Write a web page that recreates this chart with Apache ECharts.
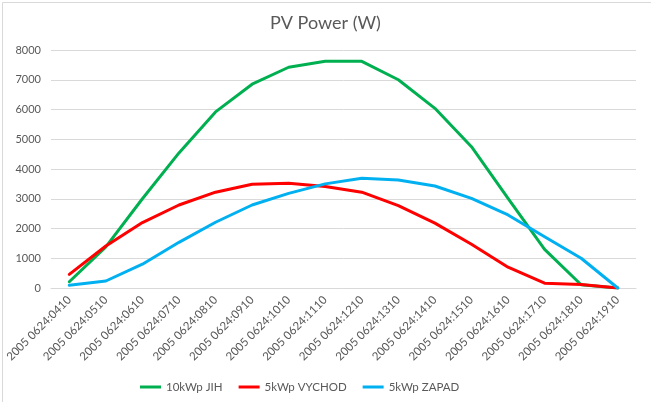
<!DOCTYPE html>
<html>
<head>
<meta charset="utf-8">
<script src="https://cdn.jsdelivr.net/npm/echarts@6/dist/echarts.min.js"></script>
<style>
html,body{margin:0;padding:0;background:#fff;}
#chart{width:651px;height:402px;}
</style>
</head>
<body>
<div id="chart"></div>
<script>
var categories = ["2005 0624:0410","2005 0624:0510","2005 0624:0610","2005 0624:0710","2005 0624:0810","2005 0624:0910","2005 0624:1010","2005 0624:1110","2005 0624:1210","2005 0624:1310","2005 0624:1410","2005 0624:1510","2005 0624:1610","2005 0624:1710","2005 0624:1810","2005 0624:1910"];
var jih = [210, 1380, 3000, 4540, 5920, 6850, 7420, 7620, 7620, 7000, 6040, 4750, 3010, 1300, 110, 0];
var vychod = [460, 1410, 2200, 2790, 3220, 3490, 3520, 3410, 3220, 2770, 2180, 1470, 700, 160, 120, 0];
var zapad = [90, 235, 800, 1535, 2210, 2790, 3180, 3500, 3690, 3630, 3430, 3015, 2455, 1725, 1000, 0];
var seriesNames = ["10kWp JIH", "5kWp VYCHOD", "5kWp ZAPAD"];

var chart = echarts.init(document.getElementById('chart'), null, {renderer: 'canvas'});
var font = 'Lato';
function lineSeries(name, data, color) {
  return {
    name: name, type: 'line', data: data, symbol: 'none', smooth: false,
    lineStyle: {color: color, width: 3, cap: 'round', join: 'round'},
    itemStyle: {color: color}
  };
}
chart.setOption({
  animation: false,
  backgroundColor: '#fff',
  textStyle: {fontFamily: font},
  title: {
    text: 'PV Power (W)', left: 'center', top: 9,
    textStyle: {fontFamily: font, fontSize: 18, fontWeight: 'normal', color: '#595959'}
  },
  graphic: [{
    type: 'rect', left: 0, top: 0, silent: true,
    shape: {x: 0.5, y: 0.5, width: 649, height: 400},
    style: {fill: 'none', stroke: '#d9d9d9', lineWidth: 1}
  }],
  legend: {
    data: seriesNames, left: 135, top: 376,
    icon: 'rect', itemWidth: 21, itemHeight: 3, itemGap: 16,
    textStyle: {fontFamily: font, fontSize: 11.5, color: '#595959'}
  },
  grid: {left: 51, right: 15, top: 50, bottom: 114, containLabel: false},
  xAxis: {
    type: 'category', data: categories, boundaryGap: true,
    axisLine: {show: true, lineStyle: {color: '#d9d9d9', width: 1}},
    axisTick: {show: false},
    axisLabel: {rotate: 45, interval: 0, margin: 10, fontFamily: font, fontSize: 11.5, color: '#595959'},
    splitLine: {show: false}
  },
  yAxis: {
    type: 'value', min: 0, max: 8000, interval: 1000,
    axisLine: {show: false}, axisTick: {show: false},
    axisLabel: {margin: 10, fontFamily: font, fontSize: 11, color: '#595959',
      formatter: function (v) { return String(v); }},
    splitLine: {show: true, lineStyle: {color: '#d9d9d9', width: 1}}
  },
  series: [
    lineSeries(seriesNames[0], jih, '#00B050'),
    lineSeries(seriesNames[1], vychod, '#FF0000'),
    lineSeries(seriesNames[2], zapad, '#00B0F0')
  ]
});
</script>
</body>
</html>
